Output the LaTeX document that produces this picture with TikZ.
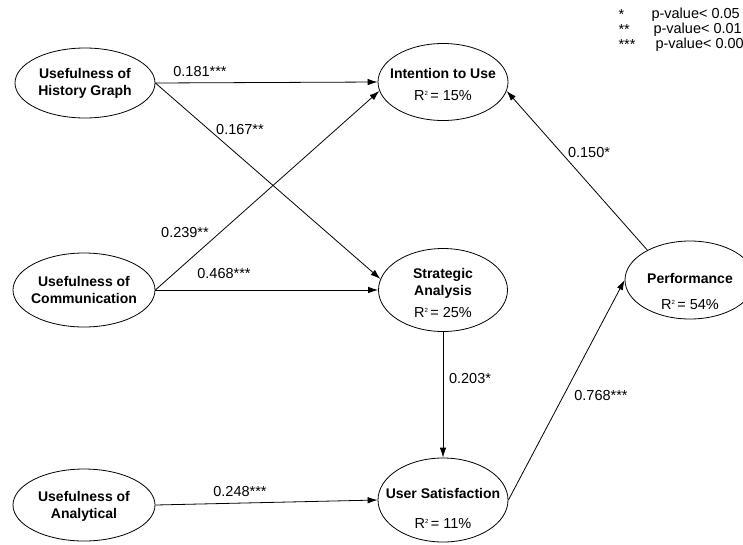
\documentclass[tikz,border=0pt]{standalone}
\usepackage{fontspec}
\setmainfont{Liberation Sans}
\usepackage{tikz}
\usetikzlibrary{shapes.geometric,arrows.meta}

\tikzset{
  construct/.style={draw=black, line width=0.8pt, ellipse, inner sep=0pt},
  title/.style={font=\fontsize{14}{17}\selectfont\bfseries, align=center},
  rsq/.style={font=\fontsize{14.5}{17}\selectfont},
  coef/.style={font=\fontsize{14.5}{16}\selectfont},
  path/.style={draw=black, line width=0.8pt, -{Latex[length=10pt,width=6.5pt]}},
}
\newcommand{\rsquare}[1]{R\raisebox{0.75ex}{\fontsize{6}{6}\selectfont 2}\,= #1\%}

\begin{document}
\begin{tikzpicture}[x=1pt, y=-1pt]
  \useasboundingbox (0,0) rectangle (743,544);

  % constructs
  \node[construct, minimum width=140pt, minimum height=70pt] (hist) at (85,83) {};
  \node[construct, minimum width=142pt, minimum height=74pt] (comm) at (84,290) {};
  \node[construct, minimum width=142pt, minimum height=72pt] (anal) at (84,505) {};
  \node[construct, minimum width=130pt, minimum height=77pt] (intent) at (443,82) {};
  \node[construct, minimum width=129pt, minimum height=83pt] (strat) at (443,290) {};
  \node[construct, minimum width=130pt, minimum height=84pt] (usat) at (443,500) {};
  \node[construct, minimum width=130pt, minimum height=78pt] (perf) at (690,280) {};

  % texts
  \node[title] (histtxt) at (85,83) {Usefulness of\\History Graph};
  \node[title] (commtxt) at (84,290) {Usefulness of\\Communication};
  \node[title] (analtxt) at (84,506) {Usefulness of\\Analytical};
  \node[title] (intenttxt) at (443,73) {Intention to Use};
  \node[rsq] (intentrsq) at (443,96) {\rsquare{15}};
  \node[title] (strattxt) at (443,283) {Strategic\\Analysis};
  \node[rsq] (stratrsq) at (443,313) {\rsquare{25}};
  \node[title] (usattxt) at (443,493) {User Satisfaction};
  \node[rsq] (usatrsq) at (443,524) {\rsquare{11}};
  \node[title] (perftxt) at (690,278) {Performance};
  \node[rsq] (perfrsq) at (690,305) {\rsquare{54}};

  % paths
  \draw[path] (hist.east) -- (intent.west);
  \draw[path] (hist.east) -- (strat.170);
  \draw[path] (comm.east) -- (intent.188);
  \draw[path] (comm.east) -- (strat.west);
  \draw[path] (strat.south) -- (usat.north);
  \draw[path] (anal.east) -- (usat.west);
  \draw[path] (usat.east) -- (perf.west);
  \draw[path] (perf.145) -- (intent.-8);

  % coefficients
  \node[coef] (c1) at (200,72) {0.181***};
  \node[coef] (c2) at (240,130) {0.167**};
  \node[coef] (c3) at (185,233) {0.239**};
  \node[coef] (c4) at (224,274) {0.468***};
  \node[coef] (c5) at (470,378) {0.203*};
  \node[coef] (c6) at (240,491) {0.248***};
  \node[coef] (c7) at (601,395) {0.768***};
  \node[coef] (c8) at (589,153) {0.150*};

  % legend
  \node[coef, anchor=west] (s1) at (615,15) {*};
  \node[coef, anchor=west] (s2) at (615,30) {**};
  \node[coef, anchor=west] (s3) at (615,45) {***};
  \node[coef, anchor=west] (p1) at (648,15) {p-value< 0.05};
  \node[coef, anchor=west] (p2) at (650,30) {p-value< 0.01};
  \node[coef, anchor=west] (p3) at (652,45) {p-value< 0.00};
\end{tikzpicture}
\end{document}
